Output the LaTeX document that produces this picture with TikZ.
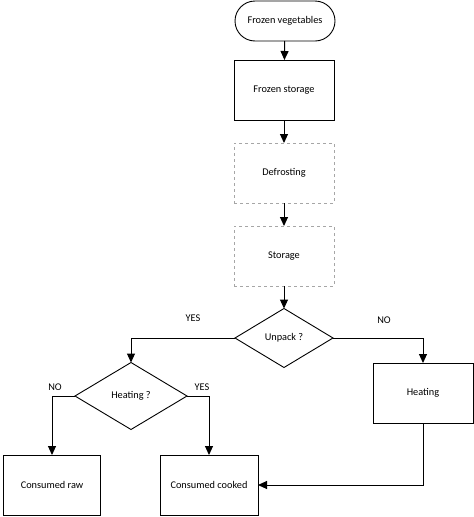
\documentclass[tikz,border=0pt]{standalone}
\usepackage{fontspec}
\setmainfont{Carlito}
\usetikzlibrary{shapes.geometric, arrows.meta}

\begin{document}
\begin{tikzpicture}[x=1pt,y=-1pt,font=\fontsize{10.3}{12}\selectfont,
    box/.style={draw,line width=0.9pt,minimum width=100pt,minimum height=60pt,outer sep=0pt},
    softbox/.style={draw=gray!70,dashed,line width=0.9pt,minimum width=100pt,minimum height=60pt,outer sep=0pt},
    decision/.style={draw,line width=0.9pt,diamond,inner sep=0pt,outer sep=0pt},
    arr/.style={line width=1pt,-{Triangle[length=9pt,width=8pt]}}]
      \useasboundingbox (0,0) rectangle (474,517);

      \node[draw,line width=0.9pt,rounded corners=20pt,minimum width=100pt,minimum height=40pt,outer sep=0pt] (frozen) at (285,21) {Frozen vegetables};
      \node[box] (fstore) at (284,90) {Frozen storage};
      \node[softbox] (defrost) at (284,173) {Defrosting};
      \node[softbox] (store) at (284,256) {Storage};
      \node[decision,minimum width=98pt,minimum height=59pt] (unpack) at (284,338) {Unpack ?};
      \node[box] (heating) at (423,393) {Heating};
      \node[decision,minimum width=112pt,minimum height=67pt] (heatq) at (131,396) {Heating ?};
      \node[box,minimum width=97pt] (raw) at (52,485) {Consumed raw};
      \node[box,minimum width=98pt] (cooked) at (209,485) {Consumed cooked};

      \draw[arr] (frozen) -- (fstore);
      \draw[arr] (fstore) -- (defrost);
      \draw[arr] (defrost) -- (store);
      \draw[arr] (store) -- (unpack);
      \draw[arr] (unpack.west) -| (heatq.north);
      \draw[arr] (unpack.east) -| (heating.north);
      \draw[arr] (heatq.west) -| (raw.north);
      \draw[arr] (heatq.east) -| (cooked.north);
      \draw[arr] (heating.south) |- (cooked.east);

      \node (yes1) at (193,318) {YES};
      \node (no1) at (384,320) {NO};
      \node (no2) at (55,387) {NO};
      \node (yes2) at (202,387) {YES};
    \end{tikzpicture}
\end{document}
